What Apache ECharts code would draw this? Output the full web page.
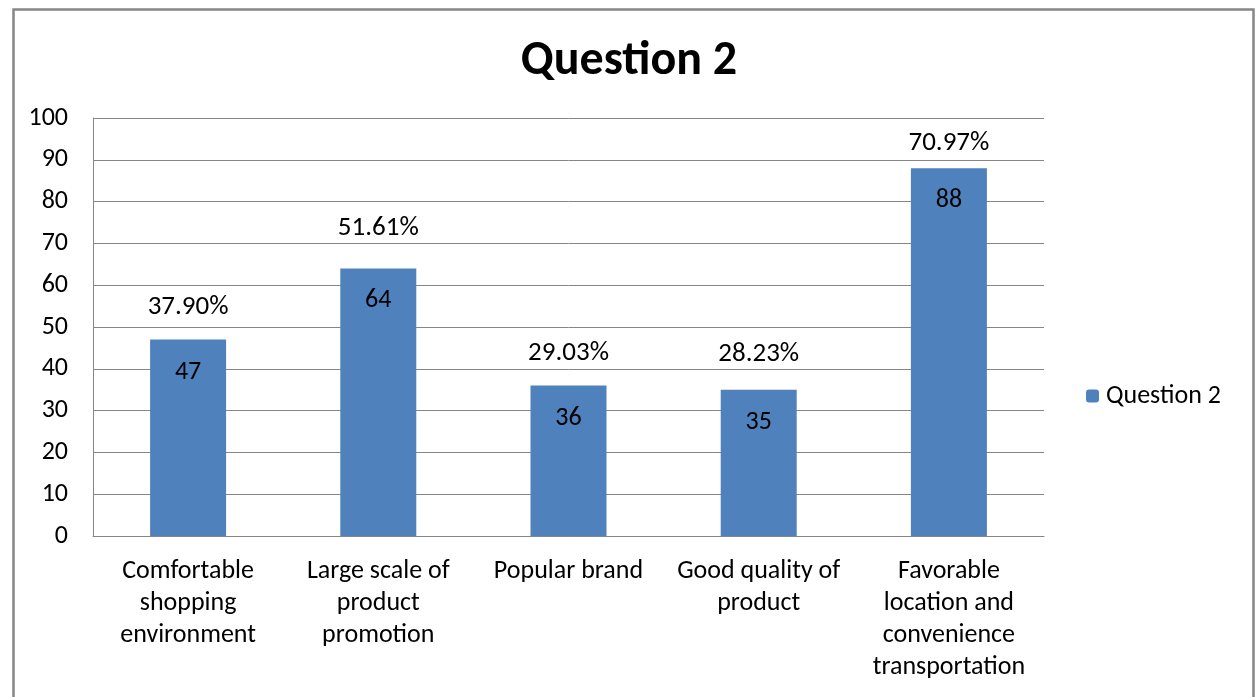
<!DOCTYPE html>
<html>
<head>
<meta charset="utf-8">
<script src="https://cdn.jsdelivr.net/npm/echarts@6/dist/echarts.min.js"></script>
<style>
html,body{margin:0;padding:0;background:#fff;}
#c{width:1258px;height:697px;}
</style>
</head>
<body>
<div id="c"></div>
<script>
const categories = [
  "Comfortable\nshopping\nenvironment",
  "Large scale of\nproduct\npromotion",
  "Popular brand",
  "Good quality of\nproduct",
  "Favorable\nlocation and\nconvenience\ntransportation"
];
const values = [47, 64, 36, 35, 88];
const percents = ["37.90%", "51.61%", "29.03%", "28.23%", "70.97%"];
const yTicks = [0, 10, 20, 30, 40, 50, 60, 70, 80, 90, 100];

// label gaps above each bar (manually placed in the original)
const pctLabelGap = [19, 27, 19, 22, 11];

const FONT = "Carlito, Lato, 'Open Sans', sans-serif";
const chart = echarts.init(document.getElementById('c'));
chart.setOption({
  animation: false,
  backgroundColor: '#fff',
  textStyle: { fontFamily: FONT },
  graphic: [{
    type: 'rect', left: 11, top: 7, z: 100,
    shape: { x: 11, y: 7, width: 1240, height: 720 },
    style: { fill: 'none', stroke: '#868686', lineWidth: 2.5 }
  }],
  title: {
    text: 'Question 2', left: 'center', top: 33,
    textStyle: { fontFamily: FONT, fontSize: 48, fontWeight: 'bold', color: '#000' }
  },
  legend: {
    data: ['Question 2'], orient: 'vertical', left: 1081, top: 378,
    itemWidth: 13, itemHeight: 13, itemGap: 8,
    textStyle: { fontFamily: FONT, fontSize: 26, color: '#000', padding: [0, 0, 0, 2] }
  },
  grid: { left: 93, top: 118, right: 214, bottom: 161 },
  xAxis: {
    type: 'category', data: categories,
    axisLine: { lineStyle: { color: '#868686', width: 1 } },
    axisTick: { show: false },
    axisLabel: { interval: 0, fontSize: 26, lineHeight: 32, margin: 19, color: '#000', fontFamily: FONT }
  },
  yAxis: {
    type: 'value', min: yTicks[0], max: yTicks[yTicks.length - 1], interval: yTicks[1] - yTicks[0],
    axisLine: { show: true, lineStyle: { color: '#868686', width: 1 } },
    axisTick: { show: false },
    axisLabel: { fontSize: 26, margin: 25, color: '#000', fontFamily: FONT },
    splitLine: { lineStyle: { color: '#868686', width: 1 } }
  },
  series: [
    {
      name: 'Question 2', type: 'bar', data: values, barWidth: 76,
      itemStyle: { color: '#4F81BD' },
      label: { show: true, position: 'insideTop', distance: 19.5, fontSize: 26, color: '#000', fontFamily: FONT }
    },
    {
      name: 'pct', type: 'bar', barWidth: 76, barGap: '-100%',
      data: values.map((v, i) => ({ value: v, label: { distance: pctLabelGap[i] } })),
      itemStyle: { color: 'rgba(0,0,0,0)' }, silent: true,
      label: { show: true, position: 'top', distance: 20, fontSize: 27, color: '#000', fontFamily: FONT,
        formatter: p => percents[p.dataIndex] }
    }
  ]
});
</script>
</body>
</html>
